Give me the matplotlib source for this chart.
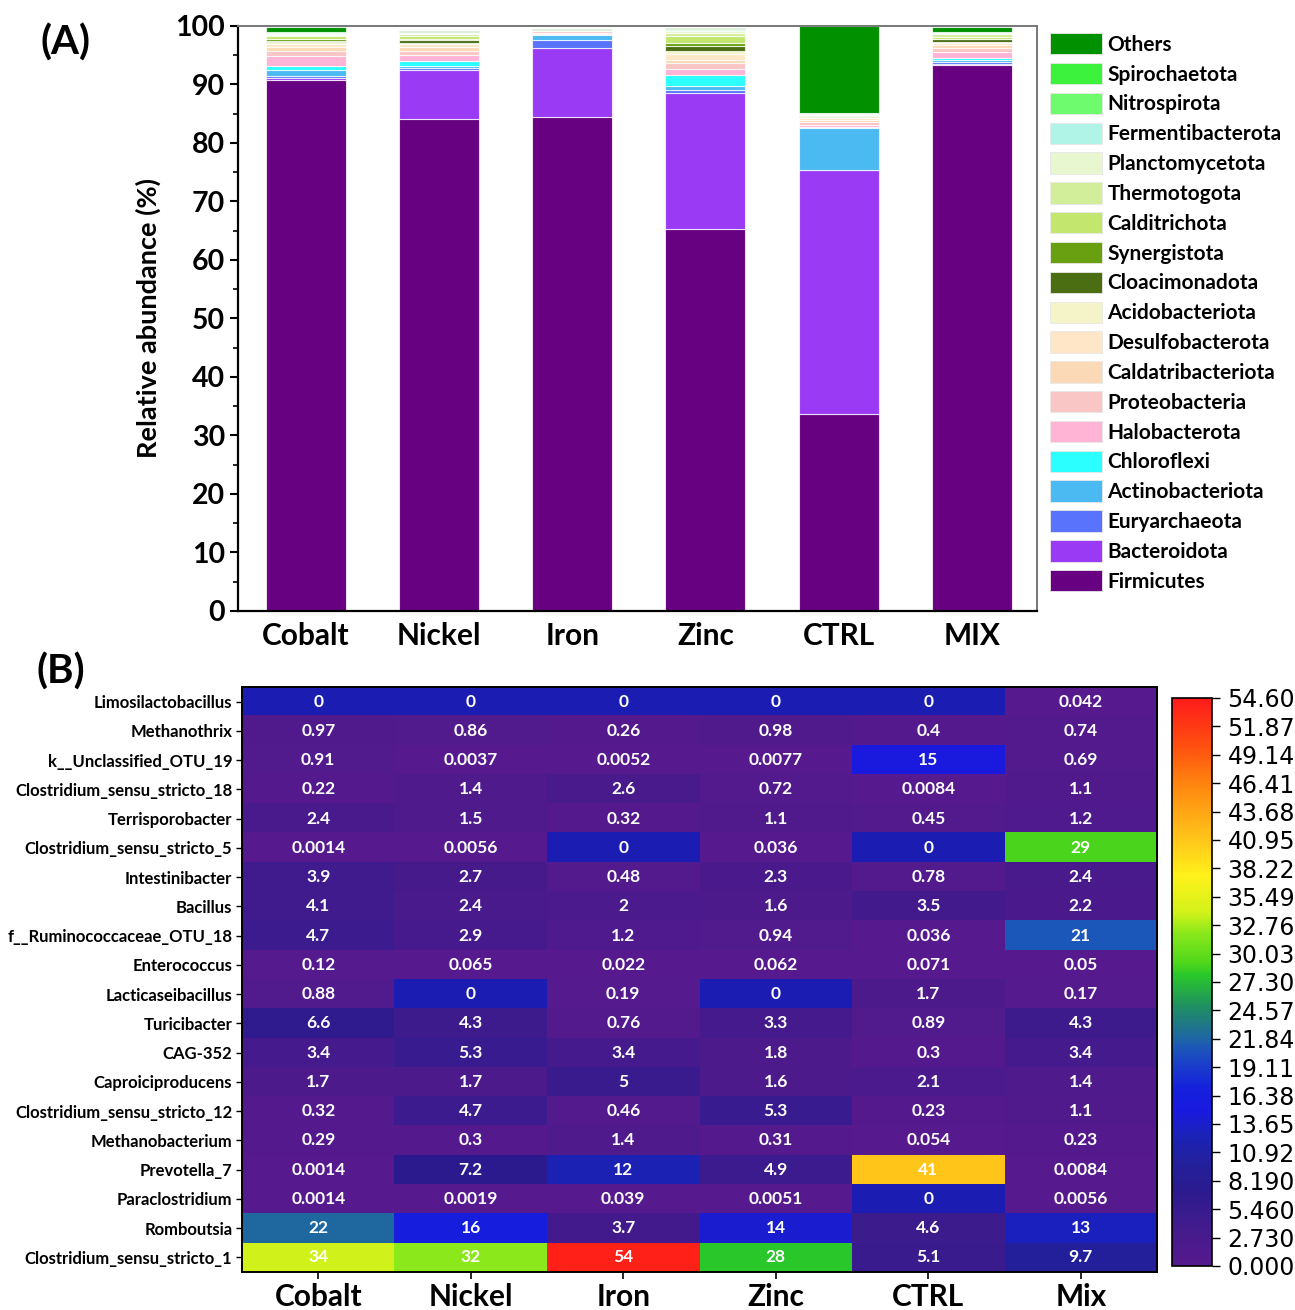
import numpy as np
import matplotlib
matplotlib.use("Agg")
import matplotlib.pyplot as plt
from matplotlib.colors import LinearSegmentedColormap, Normalize
from matplotlib.patches import Patch

plt.rcParams['font.family'] = ['Lato', 'DejaVu Sans']

# ---------------- (A) stacked phylum composition ----------------
samples_a = ["Cobalt", "Nickel", "Iron", "Zinc", "CTRL", "MIX"]

# stacking order, bottom to top
phyla = ["Firmicutes", "Bacteroidota", "Euryarchaeota", "Actinobacteriota",
         "Chloroflexi", "Halobacterota", "Proteobacteria", "Caldatribacteriota",
         "Desulfobacterota", "Acidobacteriota", "Cloacimonadota", "Synergistota",
         "Calditrichota", "Thermotogota", "Planctomycetota", "Fermentibacterota",
         "Nitrospirota", "Spirochaetota", "Others"]

phylum_colors = ["#680082", "#9b3af5", "#5a73fd", "#4bbaf2", "#2cffff",
                 "#ffb4d6", "#f9c5c5", "#fcd9b6", "#fee6c6", "#f5f4c8",
                 "#4b6e12", "#68a012", "#c2e66e", "#d3ee9a", "#e8f7d0",
                 "#b0f4e8", "#6efc6e", "#3cf23c", "#009000"]

# relative abundance (%) per sample, same order as phyla
cobalt = [90.8, 0.3, 0.4, 1.0, 0.7, 1.7, 0.9, 0.6, 0.5, 0.3, 0.3, 0.3, 0.4, 0.3, 0.2, 0.1, 0.1, 0.1, 0.9]
nickel = [84.1, 8.4, 0.3, 0.4, 0.75, 1.15, 0.7, 0.55, 0.6, 0.2, 0.45, 0.2, 0.4, 0.4, 0.2, 0.1, 0.05, 0.05, 0.2]
iron   = [84.5, 11.7, 1.4, 0.9, 0.1, 0.25, 0.2, 0.1, 0.05, 0.05, 0.0, 0.0, 0.0, 0.0, 0.05, 0.0, 0.0, 0.0, 0.1]
zinc   = [65.3, 23.3, 0.5, 0.6, 1.9, 1.0, 1.0, 0.55, 1.1, 0.4, 1.0, 0.45, 1.1, 0.55, 0.45, 0.05, 0.1, 0.15, 0.1]
ctrl   = [33.7, 41.6, 0.1, 7.1, 0.2, 0.4, 0.5, 0.4, 0.3, 0.1, 0.1, 0.1, 0.1, 0.1, 0.2, 0.1, 0.05, 0.05, 14.8]
mix    = [93.3, 0.2, 0.3, 0.35, 0.4, 1.0, 0.7, 0.45, 0.4, 0.2, 0.4, 0.1, 0.3, 0.55, 0.2, 0.05, 0.05, 0.05, 0.9]

abund = np.array([cobalt, nickel, iron, zinc, ctrl, mix])

# ---------------- (B) genus heatmap ----------------
genera = ["Limosilactobacillus", "Methanothrix", "k__Unclassified_OTU_19",
          "Clostridium_sensu_stricto_18", "Terrisporobacter",
          "Clostridium_sensu_stricto_5", "Intestinibacter", "Bacillus",
          "f__Ruminococcaceae_OTU_18", "Enterococcus", "Lacticaseibacillus",
          "Turicibacter", "CAG-352", "Caproiciproducens",
          "Clostridium_sensu_stricto_12", "Methanobacterium", "Prevotella_7",
          "Paraclostridium", "Romboutsia", "Clostridium_sensu_stricto_1"]
samples_b = ["Cobalt", "Nickel", "Iron", "Zinc", "CTRL", "Mix"]

genus_abund = [
    [0, 0, 0, 0, 0, 0.042],
    [0.97, 0.86, 0.26, 0.98, 0.4, 0.74],
    [0.91, 0.0037, 0.0052, 0.0077, 15, 0.69],
    [0.22, 1.4, 2.6, 0.72, 0.0084, 1.1],
    [2.4, 1.5, 0.32, 1.1, 0.45, 1.2],
    [0.0014, 0.0056, 0, 0.036, 0, 29],
    [3.9, 2.7, 0.48, 2.3, 0.78, 2.4],
    [4.1, 2.4, 2, 1.6, 3.5, 2.2],
    [4.7, 2.9, 1.2, 0.94, 0.036, 21],
    [0.12, 0.065, 0.022, 0.062, 0.071, 0.05],
    [0.88, 0, 0.19, 0, 1.7, 0.17],
    [6.6, 4.3, 0.76, 3.3, 0.89, 4.3],
    [3.4, 5.3, 3.4, 1.8, 0.3, 3.4],
    [1.7, 1.7, 5, 1.6, 2.1, 1.4],
    [0.32, 4.7, 0.46, 5.3, 0.23, 1.1],
    [0.29, 0.3, 1.4, 0.31, 0.054, 0.23],
    [0.0014, 7.2, 12, 4.9, 41, 0.0084],
    [0.0014, 0.0019, 0.039, 0.0051, 0, 0.0056],
    [22, 16, 3.7, 14, 4.6, 13],
    [34, 32, 54, 28, 5.1, 9.7],
]
cbar_max = 54.6

fig = plt.figure(figsize=(12.95, 13.10), dpi=100)

# ---- panel A ----
axA = fig.add_axes([0.1838, 0.5336, 0.617, 0.4466])
x = np.arange(len(samples_a))
bottom = np.zeros(len(samples_a))
for j, (name, col) in enumerate(zip(phyla, phylum_colors)):
    vals = abund[:, j]
    axA.bar(x, vals, width=0.6, bottom=bottom, color=col,
            edgecolor=(1, 1, 1, 0.75), linewidth=0.8, label=name)
    bottom += vals

axA.set_xlim(-0.51, 5.49)
axA.set_ylim(0, 100)
axA.set_yticks(np.arange(0, 101, 10))
axA.set_yticks(np.arange(5, 100, 10), minor=True)
axA.set_xticks(x)
axA.set_xticklabels(samples_a, fontsize=21.5, fontweight='bold')
axA.tick_params(axis='y', labelsize=20.5, width=1.5, length=6, direction='out')
axA.tick_params(axis='y', which='minor', width=1.2, length=3.5)
axA.tick_params(axis='x', width=1.5, length=0, pad=8)
for lab in axA.get_yticklabels():
    lab.set_fontweight('bold')
axA.set_ylabel("Relative abundance (%)", fontsize=19.5, fontweight='bold', labelpad=10)
for s in ['left', 'bottom']:
    axA.spines[s].set_linewidth(1.6)
for s in ['top', 'right']:
    axA.spines[s].set_color('#777777')
    axA.spines[s].set_linewidth(1.4)

handles = [Patch(facecolor=c, edgecolor='#e8e8e8', linewidth=0.6)
           for c in phylum_colors][::-1]
fig.legend(handles, phyla[::-1], loc='upper left',
           bbox_to_anchor=(1050 / 1295, 1 - 33 / 1310), frameon=False,
           prop={'size': 15, 'weight': 'bold'}, handlelength=2.5,
           handleheight=1.2, labelspacing=0.39, handletextpad=0.25,
           borderpad=0, borderaxespad=0)

fig.text(41 / 1295, 1 - 43 / 1310, "(A)", fontsize=29, fontweight='bold',
         va='center', ha='left')

# ---- panel B ----
heat_colors = [
    (0.0, "#561a8e"), (2.5, "#491a8c"), (5.0, "#3a1c8e"), (7.0, "#2c1a8e"),
    (10.0, "#22209c"), (12.5, "#1a22b8"), (15.0, "#1a1ae0"), (17.0, "#1420dc"),
    (19.5, "#1a40c8"), (21.0, "#1c58b8"), (22.0, "#1e68a0"), (25.0, "#1f9060"),
    (28.0, "#2ac82a"), (29.0, "#4cd61c"), (32.0, "#8ae81a"), (34.0, "#d2f21a"),
    (37.5, "#fff21a"), (41.0, "#ffc61a"), (46.0, "#ff8a10"), (50.0, "#ff5010"),
    (54.6, "#ff1a1a"),
]
cmap = LinearSegmentedColormap.from_list(
    "abund", [(v / cbar_max, c) for v, c in heat_colors], N=512)
cmap.set_bad("#1a1cb2")
norm = Normalize(vmin=0, vmax=cbar_max)

data = np.array(genus_abund, dtype=float)
masked = np.ma.masked_equal(data, 0)

axB = fig.add_axes([0.1869, 0.0290, 0.7066, 0.4466])
im = axB.imshow(masked, cmap=cmap, norm=norm, aspect='auto',
                interpolation='nearest')
for i in range(data.shape[0]):
    for j in range(data.shape[1]):
        axB.text(j, i, f"{data[i, j]:g}", ha='center', va='center',
                 color='white', fontsize=12.5, fontweight='bold')

axB.set_xticks(np.arange(len(samples_b)))
axB.set_xticklabels(samples_b, fontsize=21.5, fontweight='bold')
axB.set_yticks(np.arange(len(genera)))
axB.set_yticklabels(genera, fontsize=12.0, fontweight='bold')
axB.tick_params(axis='x', length=5, width=1.2, pad=3)
axB.tick_params(axis='y', length=4, width=1.0, pad=3)
for s in axB.spines.values():
    s.set_linewidth(1.4)

fig.text(36 / 1295, 1 - 672 / 1310, "(B)", fontsize=29, fontweight='bold',
         va='center', ha='left')

# ---- colour bar ----
cax = fig.add_axes([0.905, 0.0336, 0.031, 0.4336])
cb = fig.colorbar(im, cax=cax)
ticks = np.linspace(0, cbar_max, 21)
cb.set_ticks(ticks)
cb.set_ticklabels([f"{t:.2f}" if t >= 10 else f"{t:.3f}" for t in ticks])
cb.ax.tick_params(labelsize=17, length=6, width=1.0, pad=5)
for lab in cb.ax.get_yticklabels():
    lab.set_fontfamily('DejaVu Sans')
cb.outline.set_linewidth(1.2)

fig.savefig("out.png", dpi=100)
